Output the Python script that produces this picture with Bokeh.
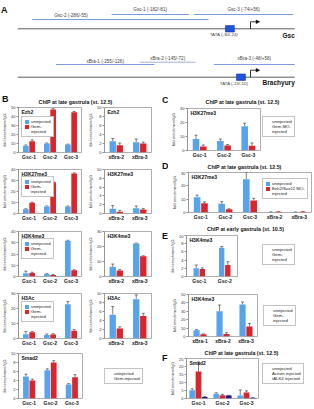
from bokeh.plotting import figure
from bokeh.layouts import row, column
from bokeh.models import (ColumnDataSource, FactorRange, Range1d, FixedTicker, Whisker,
                          TeeHead, Legend, LegendItem, Label, Arrow, NormalHead)
from bokeh.transform import dodge
from bokeh.embed import file_html
from bokeh.resources import INLINE
from bokeh.core.properties import value

# ---------------- promoter maps (bp relative to the transcription start) ----------------
gsc_amplicons = ["Gsc-2 (-286/-55)", "Gsc-1 (-182/-81)", "Gsc-3 (-74/+56)"]
gsc_amp_start = [-286, -182, -74]
gsc_amp_end = [-55, -81, 56]
gsc_tata = [-30, -24]

xbra_amplicons = ["xBra-1 (-255/-126)", "xBra-2 (-145/-72)", "xBra-3 (-48/+58)"]
xbra_amp_start = [-255, -145, -48]
xbra_amp_end = [-126, -72, 58]
xbra_tata = [-15, -10]

map_extent = [-305, 58]

# ---------------- ChIP-qPCR, fold enrichment over IgG ----------------
gsc_sites = ["Gsc-1", "Gsc-2", "Gsc-3"]
xbra_sites = ["xBra-2", "xBra-3"]
xbra_all_sites = ["xBra-1", "xBra-2", "xBra-3"]
mixed_sites = ["Gsc-1", "Gsc-2", "Gsc-3", "xBra-2", "xBra-3"]
early_gsc_sites = ["Gsc-1", "Gsc-2"]

ezh2_gsc_uninj = [7.6, 10.0, 8.8]
ezh2_gsc_uninj_err = [0.8, 0.6, 0.5]
ezh2_gsc_gem = [12.6, 47.8, 44.8]
ezh2_gsc_gem_err = [1.4, 0.8, 0.8]
ezh2_xbra_uninj = [2.5, 2.3]
ezh2_xbra_uninj_err = [0.6, 0.7]
ezh2_xbra_gem = [1.6, 2.0]
ezh2_xbra_gem_err = [0.5, 0.3]

k27_gsc_uninj = [3.8, 6.4, 6.4]
k27_gsc_uninj_err = [0.5, 0.5, 0.4]
k27_gsc_gem = [9.8, 28.4, 36.4]
k27_gsc_gem_err = [0.6, 0.6, 0.5]
k27_xbra_uninj = [1.1, 1.2]
k27_xbra_uninj_err = [0.7, 0.5]
k27_xbra_gem = [0.4, 0.9]
k27_xbra_gem_err = [0.3, 0.2]

k4_gsc_uninj = [3.0, 2.2, 31.8]
k4_gsc_uninj_err = [1.8, 0.3, 0.4]
k4_gsc_gem = [3.2, 1.4, 5.6]
k4_gsc_gem_err = [0.6, 0.3, 0.4]
k4_xbra_uninj = [6.5, 22.0]
k4_xbra_uninj_err = [1.8, 0.3]
k4_xbra_gem = [4.0, 13.5]
k4_xbra_gem_err = [0.6, 0.3]

ac_gsc_uninj = [2.8, 2.4, 22.8]
ac_gsc_uninj_err = [1.8, 0.6, 1.8]
ac_gsc_gem = [4.2, 2.7, 5.2]
ac_gsc_gem_err = [0.4, 0.5, 0.7]
ac_xbra_uninj = [5.3, 8.7]
ac_xbra_uninj_err = [1.8, 1.0]
ac_xbra_gem = [2.2, 5.0]
ac_xbra_gem_err = [0.4, 0.6]

smad2_gsc_uninj = [4.9, 6.3, 3.1]
smad2_gsc_uninj_err = [0.5, 0.3, 0.2]
smad2_gsc_gem = [4.0, 8.0, 4.7]
smad2_gsc_gem_err = [0.3, 0.4, 0.6]

gemmo_uninj = [8.3, 6.8, 17.3]
gemmo_uninj_err = [2.6, 1.4, 2.2]
gemmo_mo = [2.9, 3.6, 3.4]
gemmo_mo_err = [1.0, 0.7, 2.0]

prc2mo_uninj = [11.5, 6.5, 25.0, 0.4, 0.3]
prc2mo_uninj_err = [1.5, 1.6, 5.0, 0.1, 0.1]
prc2mo_mo = [7.0, 2.4, 9.0, 0.5, 0.6]
prc2mo_mo_err = [1.0, 0.4, 1.6, 0.1, 0.2]

early_gsc_uninj = [2.0, 7.0]
early_gsc_uninj_err = [0.8, 0.3]
early_gsc_gem = [1.8, 2.8]
early_gsc_gem_err = [0.3, 0.8]
early_xbra_uninj = [7.5, 30.0, 38.0]
early_xbra_uninj_err = [0.6, 7.5, 3.0]
early_xbra_gem = [2.6, 3.0, 12.0]
early_xbra_gem_err = [0.5, 1.5, 3.5]

smad2_act_uninj = [5.2, 3.0, 1.8]
smad2_act_uninj_err = [0.8, 0.6, 3.5]
smad2_act_activin = [16.8, 2.0, 3.8]
smad2_act_activin_err = [6.0, 0.6, 1.0]
smad2_act_talk4 = [1.0, 1.8, 0.4]
smad2_act_talk4_err = [0.3, 0.2, 0.1]

# ---------------- styling ----------------
FONT = "Liberation Sans"
BLUE = "#58a4ec"
RED = "#d9262c"
NAVY = "#1c1c88"
FRAME = "#8c8c8c"
INK = "#2b2b2b"
TITLE_LATE = "ChIP at late gastrula (st. 12.5)"
TITLE_EARLY = "ChIP at early gastrula (st. 10.5)"
YLABEL = "fold enrichment/IgG"
COMMON = dict(output_backend="svg", toolbar_location=None, frame_align=False)
GEM_LABELS = ["uninjected", "Gem-", "injected"]


def text_canvas(x0, x1, y0, y1):
    """Blank figure whose data coordinates are page pixels (y grows downward)."""
    p = figure(width=x1 - x0, height=y1 - y0, x_range=Range1d(x0, x1), y_range=Range1d(y1, y0),
               x_axis_location=None, y_axis_location=None, min_border=0,
               outline_line_color=None, **COMMON)
    p.xgrid.visible = False
    p.ygrid.visible = False
    return p


def put_text(p, x, y, txt, size, bold=False, align="left"):
    p.text(x=[x], y=[y], text=[txt], text_font=value(FONT), text_font_size=size,
           text_font_style="bold" if bold else "normal", text_align=align,
           text_baseline="middle", text_color="#111111")


def bar_chart(width, height, borders, cats, ymax, step, series, title,
              spread=0.3, bar_w=0.27):
    bl, br, bt, bb = borders
    p = figure(width=width, height=height, x_range=FactorRange(factors=cats),
               y_range=Range1d(0, ymax),
               min_border_left=bl, min_border_right=br, min_border_top=bt, min_border_bottom=bb,
               background_fill_color="white", border_fill_color="white", **COMMON)
    p.outline_line_color = FRAME
    p.outline_line_width = 0.7
    p.xgrid.visible = False
    p.ygrid.visible = False

    ya = p.yaxis[0]
    ya.ticker = FixedTicker(ticks=list(range(0, ymax + 1, step)))
    ya.major_label_text_font = FONT
    ya.major_label_text_font_size = "4px"
    ya.major_label_text_color = "#333333"
    ya.major_label_standoff = 1
    ya.major_tick_out = 2
    ya.major_tick_in = 0
    ya.minor_tick_out = 0
    ya.minor_tick_in = 0
    ya.major_tick_line_color = FRAME
    ya.axis_line_color = FRAME
    ya.axis_line_width = 0.7
    ya.axis_label = YLABEL
    ya.axis_label_text_font = FONT
    ya.axis_label_text_font_size = "3.8px"
    ya.axis_label_text_font_style = "normal"
    ya.axis_label_text_color = "#333333"
    ya.axis_label_standoff = 1

    xa = p.xaxis[0]
    xa.major_tick_out = 0
    xa.major_tick_in = 0
    xa.minor_tick_out = 0
    xa.axis_line_color = None
    xa.major_label_text_font = FONT
    xa.major_label_text_font_size = "5px"
    xa.major_label_text_font_style = "bold"
    xa.major_label_text_color = "#222222"
    xa.major_label_standoff = 1

    n = len(series)
    offsets = [(i - (n - 1) / 2) * spread for i in range(n)]
    rends = []
    for (vals, errs, color), off in zip(series, offsets):
        src = ColumnDataSource(data=dict(cat=cats, val=vals,
                                         hi=[v + e for v, e in zip(vals, errs)]))
        xs = dodge("cat", off, range=p.x_range)
        r = p.vbar(x=xs, top="val", width=bar_w, source=src, fill_color=color,
                   line_color=None)
        p.add_layout(Whisker(source=src, base=xs, lower="val", upper="hi",
                             upper_head=TeeHead(size=3, line_color=INK, line_width=0.6),
                             lower_head=None, line_color=INK, line_width=0.6))
        rends.append(r)

    p.add_layout(Label(x=3, y=ymax, x_units="screen", y_units="data", y_offset=-1.5,
                       text=title, text_font=FONT, text_font_size="5px",
                       text_font_style="bold", text_baseline="top", text_color="#111111"))
    return p, rends


def make_legend(p, labels, rends, x, y):
    items = []
    for lab, r in zip(labels, rends):
        if r is None:
            r = p.vbar(x=[], top=[], width=0.1, fill_alpha=0, line_alpha=0)
        items.append(LegendItem(label=lab, renderers=[r]))
    lg = Legend(items=items, location=(x, y), orientation="vertical",
                label_text_font=FONT, label_text_font_size="4.3px", label_text_color="#222222",
                glyph_width=5, glyph_height=5, label_height=5, label_width=10,
                label_standoff=2, spacing=0, padding=2, margin=0,
                border_line_color="#888888", border_line_width=0.6,
                background_fill_color="white", background_fill_alpha=1.0)
    p.add_layout(lg)


def legend_panel(width, height, labels, colors, x, y):
    """Stand-alone key placed beside a chart."""
    p = figure(width=width, height=height, x_range=Range1d(0, 1), y_range=Range1d(0, 1),
               x_axis_location=None, y_axis_location=None, min_border=0,
               outline_line_color=None, **COMMON)
    p.xgrid.visible = False
    p.ygrid.visible = False
    rends = []
    for c in colors:
        if c is None:
            rends.append(None)
        else:
            rends.append(p.vbar(x=[], top=[], width=0.1, fill_color=c, line_color=None))
    make_legend(p, labels, rends, x, y)
    return p


# ---------------- A: promoter maps ----------------
pa = figure(width=314, height=88, x_range=Range1d(-327.65, 83.88), y_range=Range1d(88, 0),
            x_axis_location=None, y_axis_location=None, min_border=0,
            outline_line_color=None, **COMMON)
pa.xgrid.visible = False
pa.ygrid.visible = False


def promoter(names, starts, ends, line_rows, text_rows, fracs, colors, tata, base_row,
             gene, gene_row, tata_row, tata_shift):
    pa.segment(x0=starts, y0=line_rows, x1=ends, y1=line_rows, line_color=colors, line_width=1)
    lx = [s + f * (e - s) for s, e, f in zip(starts, ends, fracs)]
    pa.text(x=lx, y=text_rows, text=names, text_font=value(FONT), text_font_size="4.6px",
            text_align="center", text_baseline="middle", text_color="#444444")
    pa.segment(x0=[map_extent[0]], y0=[base_row], x1=[map_extent[1]], y1=[base_row],
               line_color="#333333", line_width=0.8)
    mid = (tata[0] + tata[1]) / 2
    pa.rect(x=[mid], y=[base_row], width=9, height=6.5, width_units="screen",
            height_units="screen", fill_color="#1f52e0", line_color="#0c2c8c", line_width=0.5)
    pa.text(x=[mid], y=[tata_row], x_offset=tata_shift,
            text=["TATA (%d/%d)" % (tata[0], tata[1])], text_font=value(FONT),
            text_font_size="4.4px", text_align="center", text_baseline="middle",
            text_color="#444444")
    pa.segment(x0=[0], y0=[base_row], x1=[0], y1=[base_row - 7], line_color="black",
               line_width=0.8)
    pa.add_layout(Arrow(end=NormalHead(size=3.5, fill_color="black", line_color="black",
                                       line_width=0.5),
                        x_start=0, y_start=base_row - 7, x_end=12, y_end=base_row - 7,
                        line_color="black", line_width=0.8))
    pa.text(x=[map_extent[1]], y=[gene_row], text=[gene], text_font=value(FONT),
            text_font_size="6.5px", text_font_style="bold", text_align="right",
            text_baseline="middle", text_color="#111111")


promoter(gsc_amplicons, gsc_amp_start, gsc_amp_end, [19, 14, 14], [15.3, 9.3, 9.0],
         [0.22, 0.5, 0.5], ["#7b9ce2", "#7b9ce2", "#7b9ce2"], gsc_tata, 28.3,
         "Gsc", 34.8, 34.3, -6)
promoter(xbra_amplicons, xbra_amp_start, xbra_amp_end, [64, 61.7, 64], [60.7, 57.5, 58.3],
         [0.5, 0.5, 0.5], ["#7b9ce2", "#a3b4d8", "#7b9ce2"], xbra_tata, 76.7,
         "Brachyury", 81.5, 82.8, -7)
pa.text(x=[-327], y=[9], text=["A"], text_font=value(FONT), text_font_size="9px",
        text_font_style="bold", text_align="left", text_baseline="middle", text_color="#111111")

# ---------------- B ----------------
bhead = text_canvas(0, 160, 88, 105)
put_text(bhead, 1.5, 98, "B", "9px", bold=True)
put_text(bhead, 75, 101.5, TITLE_LATE, "5.3px", bold=True, align="center")

b1l, r = bar_chart(86, 61, (13, 5, 2, 14), gsc_sites, 50, 10,
                   [(ezh2_gsc_uninj, ezh2_gsc_uninj_err, BLUE),
                    (ezh2_gsc_gem, ezh2_gsc_gem_err, RED)], "Ezh2")
make_legend(b1l, GEM_LABELS, r + [None], 3, 15)
b1r, r = bar_chart(74, 61, (13, 9, 2, 14), xbra_sites, 10, 2,
                   [(ezh2_xbra_uninj, ezh2_xbra_uninj_err, BLUE),
                    (ezh2_xbra_gem, ezh2_xbra_gem_err, RED)], "Ezh2")

b2l, r = bar_chart(86, 62, (13, 5, 3, 15), gsc_sites, 40, 10,
                   [(k27_gsc_uninj, k27_gsc_uninj_err, BLUE),
                    (k27_gsc_gem, k27_gsc_gem_err, RED)], "H3K27me3")
make_legend(b2l, GEM_LABELS, r + [None], 3, 16)
b2r, r = bar_chart(74, 62, (13, 9, 3, 15), xbra_sites, 10, 2,
                   [(k27_xbra_uninj, k27_xbra_uninj_err, BLUE),
                    (k27_xbra_gem, k27_xbra_gem_err, RED)], "H3K27me3")

b3l, r = bar_chart(86, 62, (13, 5, 3, 14), gsc_sites, 40, 10,
                   [(k4_gsc_uninj, k4_gsc_uninj_err, BLUE),
                    (k4_gsc_gem, k4_gsc_gem_err, RED)], "H3K4me3")
make_legend(b3l, GEM_LABELS, r + [None], 3, 17)
b3r, r = bar_chart(74, 62, (13, 9, 3, 14), xbra_sites, 30, 10,
                   [(k4_xbra_uninj, k4_xbra_uninj_err, BLUE),
                    (k4_xbra_gem, k4_xbra_gem_err, RED)], "H3K4me3")

b4l, r = bar_chart(86, 60, (13, 5, 3, 12), gsc_sites, 30, 10,
                   [(ac_gsc_uninj, ac_gsc_uninj_err, BLUE),
                    (ac_gsc_gem, ac_gsc_gem_err, RED)], "H3Ac")
make_legend(b4l, GEM_LABELS, r + [None], 3, 16)
b4r, r = bar_chart(74, 60, (13, 9, 3, 12), xbra_sites, 10, 2,
                   [(ac_xbra_uninj, ac_xbra_uninj_err, BLUE),
                    (ac_xbra_gem, ac_xbra_gem_err, RED)], "H3Ac")

b5, r = bar_chart(84, 59, (14, 2, 3, 11), gsc_sites, 10, 2,
                  [(smad2_gsc_uninj, smad2_gsc_uninj_err, BLUE),
                   (smad2_gsc_gem, smad2_gsc_gem_err, RED)], "Smad2")
b5key = legend_panel(76, 59, ["uninjected", "Gem-injected"], [BLUE, RED], 20, 25)

# ---------------- C to F ----------------
letters = text_canvas(160, 168, 88, 409)
for ch, y in (("C", 99), ("D", 165), ("E", 235), ("F", 357)):
    put_text(letters, 161.5, y, ch, "9px", bold=True)

hC = text_canvas(168, 314, 88, 105)
put_text(hC, 242, 101, TITLE_LATE, "5.3px", bold=True, align="center")

pc, r = bar_chart(94, 55, (19, 2, 3, 8), gsc_sites, 30, 10,
                  [(gemmo_uninj, gemmo_uninj_err, BLUE),
                   (gemmo_mo, gemmo_mo_err, RED)], "H3K27me3")
pc_key = legend_panel(52, 55, ["uninjected", "Gem MO-", "injected"], [BLUE, RED, None], 0, 23)

hD = text_canvas(168, 314, 160, 171)
put_text(hD, 244, 165.5, TITLE_LATE, "5.3px", bold=True, align="center")

pd_, r = bar_chart(146, 51, (20, 3, 1, 9), mixed_sites, 30, 10,
                   [(prc2mo_uninj, prc2mo_uninj_err, BLUE),
                    (prc2mo_mo, prc2mo_mo_err, RED)], "H3K27me3")
make_legend(pd_, ["uninjected", "Ezh2/Suz12 MO-", "injected"], r + [None], 74, 13)

hE = text_canvas(168, 314, 222, 234)
put_text(hE, 245, 228.5, TITLE_EARLY, "5.3px", bold=True, align="center")

pe1, r = bar_chart(71, 52, (13, 2, 1, 10), early_gsc_sites, 10, 2,
                   [(early_gsc_uninj, early_gsc_uninj_err, BLUE),
                    (early_gsc_gem, early_gsc_gem_err, RED)], "H3K4me3",
                   spread=0.24, bar_w=0.21)
pe1_key = legend_panel(75, 52, GEM_LABELS, [BLUE, RED, None], 23, 21)

pe2, r = bar_chart(91, 60, (20, 2, 8, 8), xbra_all_sites, 50, 10,
                   [(early_xbra_uninj, early_xbra_uninj_err, BLUE),
                    (early_xbra_gem, early_xbra_gem_err, RED)], "H3K4me3")
pe2_key = legend_panel(55, 60, GEM_LABELS, [BLUE, RED, None], 4, 20)

hF = text_canvas(168, 314, 346, 357)
put_text(hF, 241, 351.5, TITLE_LATE, "5.3px", bold=True, align="center")

pf, r = bar_chart(92, 52, (18, 2, 1, 11), gsc_sites, 25, 5,
                  [(smad2_act_uninj, smad2_act_uninj_err, BLUE),
                   (smad2_act_activin, smad2_act_activin_err, RED),
                   (smad2_act_talk4, smad2_act_talk4_err, NAVY)], "Smad2",
                  spread=0.26, bar_w=0.24)
pf_key = legend_panel(54, 52, ["uninjected", "Activin injected", "tALK4 injected"],
                      [BLUE, RED, NAVY], 2, 25)

left_col = column(bhead, row(b1l, b1r), row(b2l, b2r), row(b3l, b3r), row(b4l, b4r),
                  row(b5, b5key))
charts_col = column(hC, row(pc, pc_key), hD, pd_, hE, row(pe1, pe1_key),
                    row(pe2, pe2_key), hF, row(pf, pf_key))
page = column(pa, row(left_col, row(letters, charts_col)))

open("out.html", "w").write(file_html(page, INLINE, title="ChIP analysis at Gsc and Brachyury"))
